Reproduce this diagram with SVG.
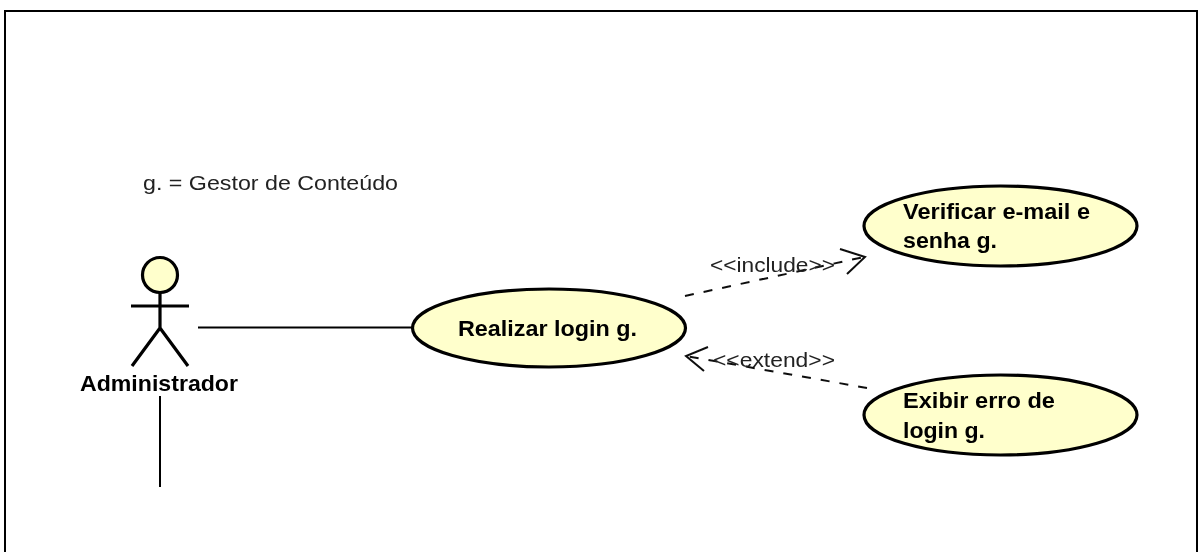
<svg xmlns="http://www.w3.org/2000/svg" width="1203" height="552" viewBox="0 0 1203 552">
<defs><filter id="soft" x="-5%" y="-5%" width="110%" height="110%"><feGaussianBlur stdDeviation="0.4"/></filter></defs>
<style>
.uc{fill:#ffffcc;stroke:#000;stroke-width:3.200}
.l{stroke:#000;stroke-width:2;fill:none}
.s{stroke:#000;stroke-width:3.200;fill:none}
.d{stroke:#111;stroke-width:2;fill:none;stroke-dasharray:9 10}
.a{stroke:#111;stroke-width:2;fill:none}
text{font-family:"Liberation Sans",Arial,sans-serif;fill:#000}
.b{font-size:22px;font-weight:bold}
.n{font-size:21px;fill:#222}
g,.t{filter:url(#soft)}
</style>
<rect x="5" y="11" width="1192" height="560" fill="#fff" stroke="#000" stroke-width="2"/>
<text id="note" class="n t" x="143" y="190" textLength="255" lengthAdjust="spacingAndGlyphs">g. = Gestor de Conteúdo</text>
<g id="connectors">
<line class="l" x1="198" y1="327.500" x2="413" y2="327.500"/>
<line class="l" x1="160" y1="396" x2="160" y2="487"/>
<line class="d" x1="685" y1="296" x2="864" y2="257"/>
<path class="a" d="M840 249L865 257L847 274"/>
<line class="d" x1="867" y1="388" x2="686" y2="356"/>
<path class="a" d="M708 347L686 356L704 371"/>
<text class="n" x="710" y="272" textLength="125" lengthAdjust="spacingAndGlyphs">&lt;&lt;include&gt;&gt;</text>
<text class="n" x="713" y="367" textLength="122" lengthAdjust="spacingAndGlyphs">&lt;&lt;extend&gt;&gt;</text>
</g>
<g id="actor-administrador">
<circle cx="160" cy="275" r="17.500" fill="#ffffcc" stroke="#000" stroke-width="3.200"/>
<path class="s" d="M160 293V328M131 306H189M132 366L160 328L188 366"/>
<text class="b" x="80" y="391" textLength="158" lengthAdjust="spacingAndGlyphs">Administrador</text>
</g>
<g id="uc-realizar">
<ellipse class="uc" cx="549" cy="328" rx="136.500" ry="39"/>
<text class="b" x="458" y="336" textLength="179" lengthAdjust="spacingAndGlyphs">Realizar login g.</text>
</g>
<g id="uc-verificar">
<ellipse class="uc" cx="1000.500" cy="226" rx="136.500" ry="40"/>
<text class="b" x="903" y="219" textLength="187" lengthAdjust="spacingAndGlyphs">Verificar e-mail e</text>
<text class="b" x="903" y="248" textLength="94" lengthAdjust="spacingAndGlyphs">senha g.</text>
</g>
<g id="uc-exibir">
<ellipse class="uc" cx="1000.500" cy="415" rx="136.500" ry="40"/>
<text class="b" x="903" y="408" textLength="152" lengthAdjust="spacingAndGlyphs">Exibir erro de</text>
<text class="b" x="903" y="438" textLength="82" lengthAdjust="spacingAndGlyphs">login g.</text>
</g>
</svg>
